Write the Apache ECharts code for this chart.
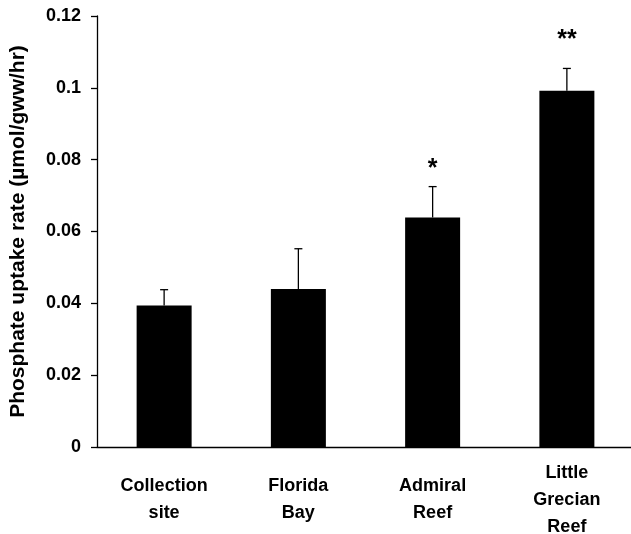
<!DOCTYPE html>
<html>
<head>
<meta charset="utf-8">
<script src="https://cdn.jsdelivr.net/npm/echarts@6/dist/echarts.min.js"></script>
<style>
  html, body { margin: 0; padding: 0; background: #fff; }
  #chart { width: 631px; height: 534px; }
</style>
</head>
<body>
<div id="chart"></div>
<script>
// data
const categories = ['Collection\nsite', 'Florida\nBay', 'Admiral\nReef', 'Little\nGrecian\nReef'];
const uptake = [0.0394, 0.0440, 0.0639, 0.0992];
const errors = [0.0044, 0.0112, 0.0086, 0.0062];
const marks = ['', '', '*', '**'];
const markPos = [null, null, 0.0773, 0.1133];
const yTicks = [0, 0.02, 0.04, 0.06, 0.08, 0.1, 0.12];

const FONT = '"Liberation Sans", Arial, Helvetica, sans-serif';

const myChart = echarts.init(document.getElementById('chart'));

const errData = uptake.map((v, i) => [i, v, v + errors[i]]);
const markData = marks.map((m, i) => [i, markPos[i], m]).filter(d => d[2]);

const option = {
  animation: false,
  grid: { left: 97, right: -3, top: 16, bottom: 87, outerBoundsMode: 'none', containLabel: false },
  xAxis: {
    type: 'category',
    data: categories,
    axisLine: { lineStyle: { color: '#000', width: 1.3 } },
    axisTick: { show: false },
    axisLabel: {
      color: '#000',
      fontFamily: FONT,
      fontWeight: 'bold',
      fontSize: 18,
      lineHeight: 27,
      margin: 53,
      verticalAlign: 'middle',
      interval: 0
    }
  },
  yAxis: {
    type: 'value',
    min: 0,
    max: 0.12,
    interval: 0.02,
    name: 'Phosphate uptake rate (µmol/gww/hr)',
    nameLocation: 'middle',
    nameGap: 68,
    nameTextStyle: { color: '#000', fontFamily: FONT, fontWeight: 'bold', fontSize: 21 },
    axisLine: { show: true, lineStyle: { color: '#000', width: 1.3 } },
    axisTick: { show: true, length: 6, lineStyle: { color: '#000', width: 1.3 } },
    splitLine: { show: false },
    axisLabel: {
      color: '#000',
      fontFamily: FONT,
      fontWeight: 'bold',
      fontSize: 18,
      margin: 16,
      formatter: v => {
        const t = yTicks.find(x => Math.abs(x - v) < 1e-9);
        return t === undefined ? '' : String(+t.toFixed(2));
      }
    }
  },
  series: [
    {
      type: 'bar',
      data: uptake,
      barWidth: 55,
      itemStyle: { color: '#000' }
    },
    {
      type: 'custom',
      data: errData,
      z: 5,
      renderItem: function (params, api) {
        const lo = api.coord([api.value(0), api.value(1)]);
        const hi = api.coord([api.value(0), api.value(2)]);
        const half = 4;
        const style = { stroke: '#000', lineWidth: 1.3 };
        return {
          type: 'group',
          children: [
            { type: 'line', shape: { x1: lo[0], y1: lo[1], x2: hi[0], y2: hi[1] }, style: style },
            { type: 'line', shape: { x1: hi[0] - half, y1: hi[1], x2: hi[0] + half, y2: hi[1] }, style: style }
          ]
        };
      }
    },
    {
      type: 'custom',
      data: markData,
      renderItem: function (params, api) {
        const p = api.coord([api.value(0), api.value(1)]);
        return {
          type: 'text',
          x: p[0],
          y: p[1],
          style: {
            text: markData[params.dataIndex][2],
            fill: '#000',
            font: 'bold 25px ' + FONT,
            align: 'center',
            verticalAlign: 'middle'
          }
        };
      }
    }
  ]
};

myChart.setOption(option, true);
</script>
</body>
</html>
